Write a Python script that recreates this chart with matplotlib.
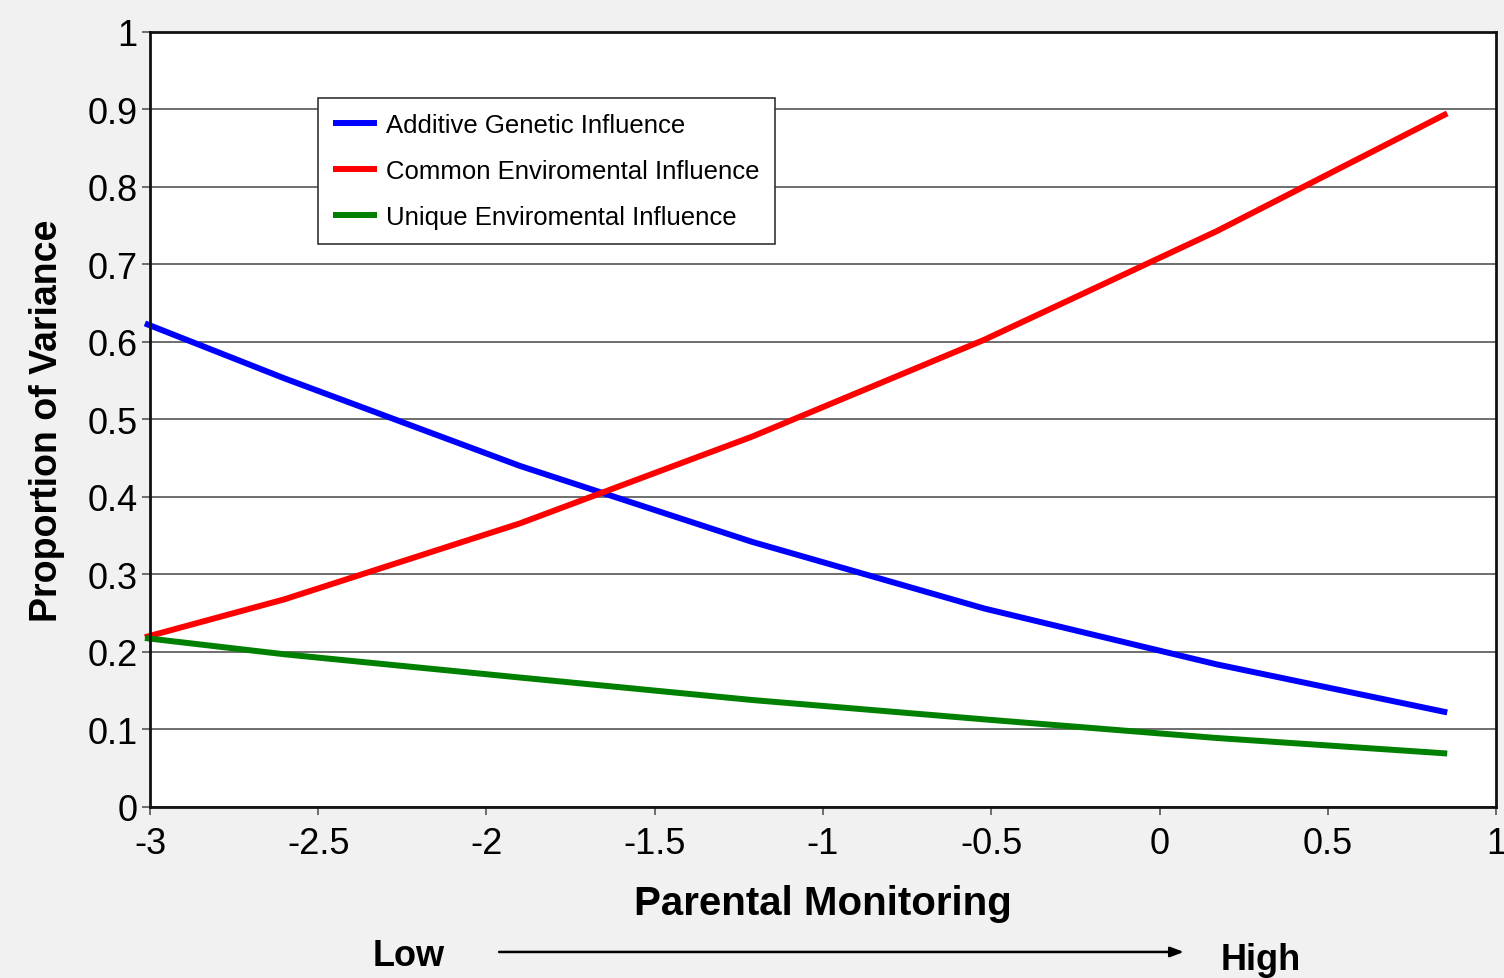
import matplotlib
matplotlib.use("Agg")
import matplotlib.pyplot as plt

# values
monitoring = [-3.015, -2.6, -1.9, -1.21, -0.52, 0.17, 0.855]
additive = [0.624, 0.553, 0.440, 0.342, 0.256, 0.184, 0.122]
common = [0.219, 0.268, 0.366, 0.478, 0.603, 0.743, 0.895]
unique = [0.218, 0.197, 0.167, 0.138, 0.113, 0.089, 0.069]

series_names = ["Additive Genetic Influence",
                "Common Enviromental Influence",
                "Unique Enviromental Influence"]
xticks = [-3, -2.5, -2, -1.5, -1, -0.5, 0, 0.5, 1]
xtick_labels = ["-3", "-2.5", "-2", "-1.5", "-1", "-0.5", "0", "0.5", "1"]
yticks = [0, 0.1, 0.2, 0.3, 0.4, 0.5, 0.6, 0.7, 0.8, 0.9, 1]
ytick_labels = ["0", "0.1", "0.2", "0.3", "0.4", "0.5", "0.6", "0.7", "0.8", "0.9", "1"]

plt.rcParams["font.family"] = ["Liberation Sans", "DejaVu Sans"]

fig = plt.figure(figsize=(15.04, 9.79), dpi=100, facecolor="#f1f1f1")
ax = fig.add_axes([0.0997, 0.1747, 0.895, 0.7916])
ax.set_facecolor("white")

ax.plot(monitoring, additive, color="#0000ff", lw=4.3, label=series_names[0], solid_capstyle="butt")
ax.plot(monitoring, common, color="#ff0000", lw=4.3, label=series_names[1], solid_capstyle="butt")
ax.plot(monitoring, unique, color="#008000", lw=4.3, label=series_names[2], solid_capstyle="butt")
for l in ax.lines:
    l.set_clip_on(False)

ax.set_xlim(-3, 1)
ax.set_ylim(0, 1)
ax.set_xticks(xticks)
ax.set_xticklabels(xtick_labels)
ax.set_yticks(yticks)
ax.set_yticklabels(ytick_labels)
ax.tick_params(axis="both", labelsize=26, direction="out", length=6, width=1.2, color="#555555")
ax.tick_params(axis="x", pad=8)
ax.tick_params(axis="y", pad=3)

ax.yaxis.grid(True, color="#6e6e6e", lw=1.4)
ax.set_axisbelow(True)
for s in ax.spines.values():
    s.set_color("#111111")
    s.set_linewidth(2)

ax.set_xlabel("Parental Monitoring", fontsize=29, fontweight="bold", labelpad=16)
ax.set_ylabel("Proportion of Variance", fontsize=27, fontweight="bold", labelpad=16)

leg = ax.legend(loc="upper left", bbox_to_anchor=(0.1248, 0.915), borderaxespad=0,
                fancybox=False, edgecolor="#333333", fontsize=18.5, handlelength=1.7,
                handletextpad=0.35, labelspacing=0.85, borderpad=0.6, framealpha=1)
leg.get_frame().set_linewidth(1.2)

fig.text(0.272, 0.0135, "Low", fontsize=26, fontweight="bold", ha="center", va="baseline")
fig.text(0.838, 0.009, "High", fontsize=26, fontweight="bold", ha="center", va="baseline")
ax.annotate("", xy=(0.789, 0.0266), xytext=(0.330, 0.0266), xycoords="figure fraction",
            textcoords="figure fraction",
            arrowprops=dict(arrowstyle="-|>,head_length=0.8,head_width=0.3", color="black", lw=1.8))

fig.savefig("out.png", dpi=100, facecolor=fig.get_facecolor())
